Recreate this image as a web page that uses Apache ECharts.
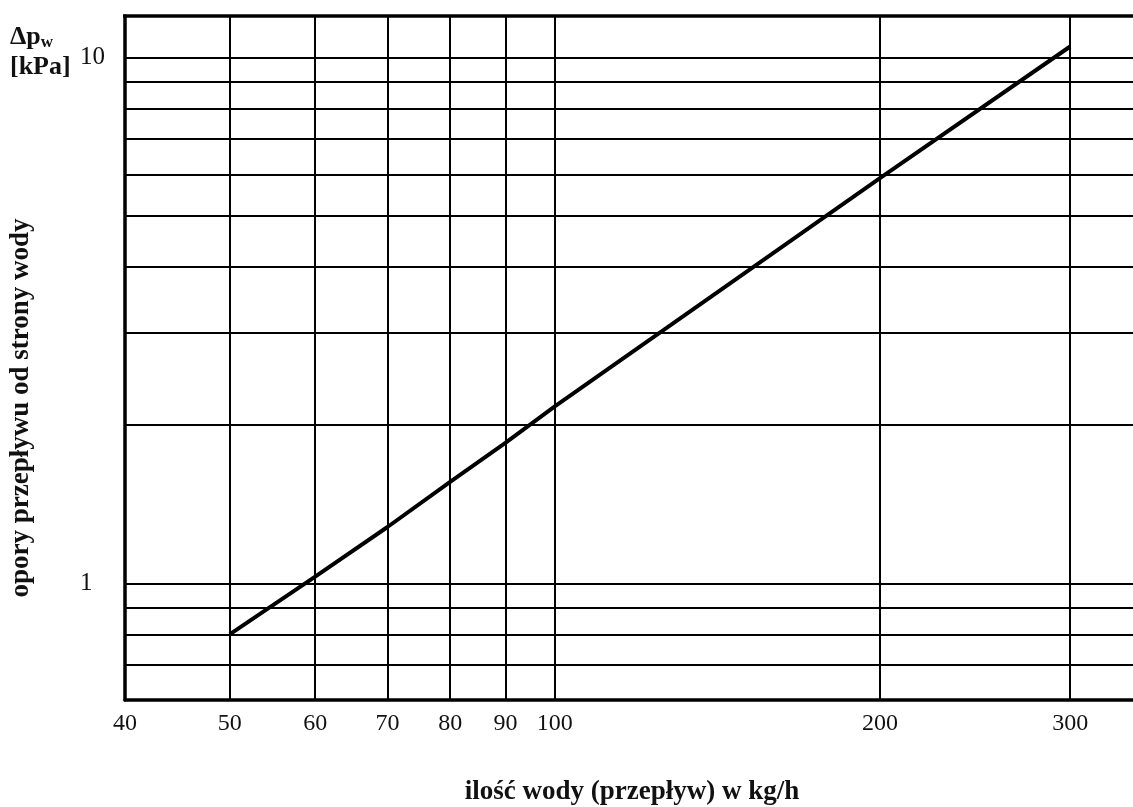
<!DOCTYPE html>
<html>
<head>
<meta charset="utf-8">
<script src="https://cdn.jsdelivr.net/npm/echarts@6/dist/echarts.min.js"></script>
<style>
  html, body { margin: 0; padding: 0; background: #fff; }
  #chart { width: 1133px; height: 807px; }
</style>
</head>
<body>
<div id="chart"></div>
<script>
// przeplyw wody [kg/h] i opory [kPa]
var flowVals = [50, 60, 70, 80, 90, 100, 200, 300];
var dpVals = [0.80, 1.03, 1.28, 1.56, 1.85, 2.17, 5.9, 10.5];
var xTicks = [40, 50, 60, 70, 80, 90, 100, 200, 300];
var yGrid = [0.7, 0.8, 0.9, 1, 2, 3, 4, 5, 6, 7, 8, 9, 10];
var yLabels = [1, 10];

var myChart = echarts.init(document.getElementById('chart'));
var pts = [];
for (var i = 0; i < flowVals.length; i++) {
  pts.push([flowVals[i], dpVals[i]]);
}
var serif = '"Liberation Serif", "DejaVu Serif", serif';

var option = {
  animation: false,
  backgroundColor: '#fff',
  grid: { left: 125, right: -4, top: 16, bottom: 107 },
  xAxis: {
    type: 'log',
    logBase: 10,
    min: 40,
    max: 343,
    axisLine: { show: true, lineStyle: { color: '#000', width: 3.5 } },
    axisTick: { show: false, customValues: xTicks },
    axisLabel: {
      customValues: xTicks,
      margin: 12,
      color: '#111',
      fontFamily: serif,
      fontSize: 24,
      formatter: function (v) { return String(Math.round(v)); }
    },
    splitLine: { show: true, lineStyle: { color: '#000', width: 2 } }
  },
  yAxis: {
    type: 'log',
    logBase: 10,
    min: 0.6,
    max: 12,
    axisLine: { show: true, lineStyle: { color: '#000', width: 3.5 } },
    axisTick: { show: false, customValues: yGrid },
    axisLabel: {
      customValues: yLabels,
      align: 'left',
      margin: 45,
      color: '#111',
      fontFamily: serif,
      fontSize: 25,
      formatter: function (v) { return String(Math.round(v)); }
    },
    splitLine: { show: true, lineStyle: { color: '#000', width: 2 } }
  },
  graphic: [
    {
      type: 'line',
      shape: { x1: 123, y1: 16, x2: 1133, y2: 16 },
      style: { stroke: '#000', lineWidth: 3.5 }
    },
    {
      type: 'text',
      left: 10,
      top: 24,
      style: {
        text: '{a|Δp}{s|w}\n{a|[kPa]}',
        rich: {
          a: { fontFamily: serif, fontWeight: 'bold', fontSize: 26, fill: '#111', lineHeight: 30 },
          s: { fontFamily: serif, fontWeight: 'bold', fontSize: 17, fill: '#111', padding: [12, 0, 0, 0] }
        }
      }
    },
    {
      type: 'text',
      x: 21,
      y: 408,
      rotation: Math.PI / 2,
      style: {
        text: 'opory przepływu od strony wody',
        fontFamily: serif,
        fontWeight: 'bold',
        fontSize: 27,
        fill: '#111',
        align: 'center',
        verticalAlign: 'middle'
      }
    },
    {
      type: 'text',
      x: 632,
      y: 792,
      style: {
        text: 'ilość wody (przepływ) w kg/h',
        fontFamily: serif,
        fontWeight: 'bold',
        fontSize: 27,
        fill: '#111',
        align: 'center',
        verticalAlign: 'middle'
      }
    }
  ],
  series: [
    {
      type: 'line',
      data: pts,
      symbol: 'none',
      lineStyle: { color: '#000', width: 4 }
    }
  ]
};
myChart.setOption(option);
</script>
</body>
</html>
